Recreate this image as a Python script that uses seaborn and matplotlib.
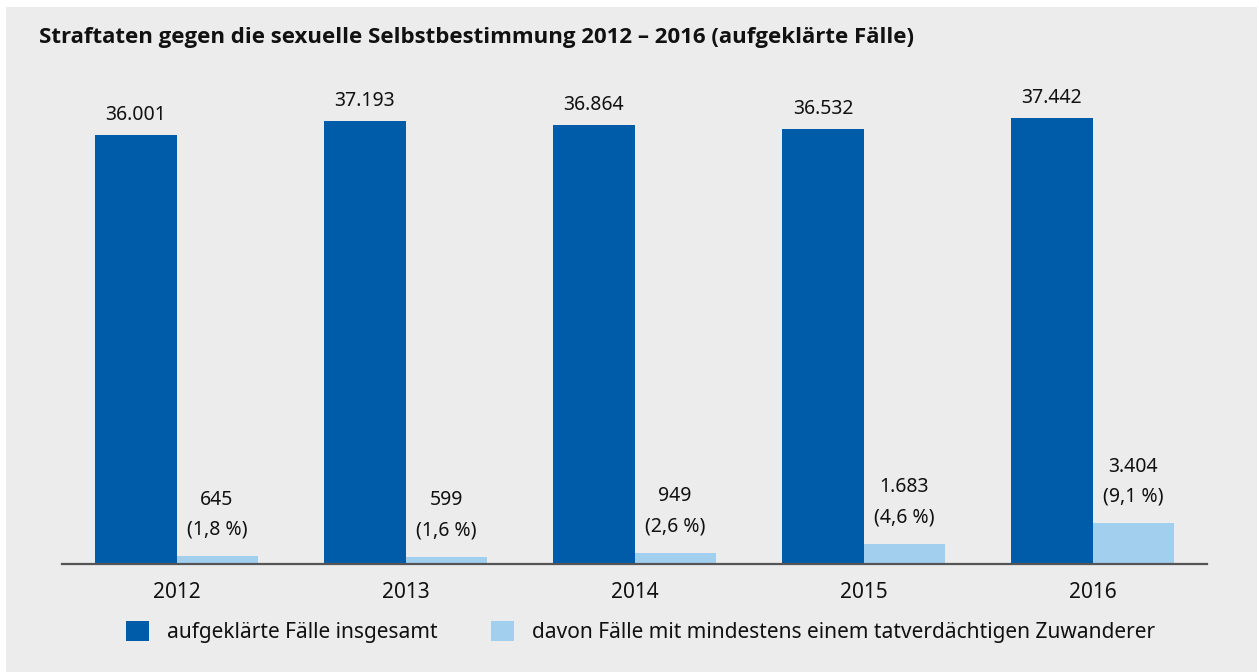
import matplotlib
matplotlib.use("Agg")
import matplotlib.pyplot as plt
import seaborn as sns
import pandas as pd
from matplotlib.patches import Rectangle

years = ["2012", "2013", "2014", "2015", "2016"]
series = ["aufgeklärte Fälle insgesamt",
          "davon Fälle mit mindestens einem tatverdächtigen Zuwanderer"]
total = [36001, 37193, 36864, 36532, 37442]
migrants = [645, 599, 949, 1683, 3404]
shares = ["1,8 %", "1,6 %", "2,6 %", "4,6 %", "9,1 %"]
title = "Straftaten gegen die sexuelle Selbstbestimmung 2012 – 2016 (aufgeklärte Fälle)"

def fmt(v):
    return f"{v:,}".replace(",", ".")

df = pd.DataFrame({
    "Jahr": years * 2,
    "Serie": [series[0]] * 5 + [series[1]] * 5,
    "Wert": total + migrants,
})

sns.set_theme(style="white")
plt.rcParams["font.family"] = ["Noto Sans", "DejaVu Sans"]

W, H = 1259, 672
fig = plt.figure(figsize=(W / 100, H / 100), dpi=100)
fig.patch.set_facecolor("white")
fig.patches.append(Rectangle((6 / W, 0), (1257 - 6) / W, (H - 7) / H,
                             transform=fig.transFigure, facecolor="#ececec",
                             edgecolor="none", zorder=-10))

ax = fig.add_axes([62 / W, (H - 564) / H, 1145 / W, 464.7 / H])
ax.set_facecolor("none")

sns.barplot(data=df, x="Jahr", y="Wert", hue="Serie", hue_order=series,
            palette=["#005ca9", "#a3cfef"], width=0.708, saturation=1,
            linewidth=0, ax=ax, legend=True)

ax.set_ylim(0, 39000)
ax.set_xlim(-0.5, 4.5)
ax.set_xlabel("")
ax.set_ylabel("")
ax.set_yticks([])
for s in ["left", "right", "top"]:
    ax.spines[s].set_visible(False)
ax.spines["bottom"].set_color("#555555")
ax.spines["bottom"].set_linewidth(1.6)
ax.spines["bottom"].set_zorder(5)
ax.tick_params(axis="x", length=0, pad=13, labelsize=15, labelcolor="#111111")

txtc = "#111111"
c_total, c_mig = ax.containers[0], ax.containers[1]
for bar, v in zip(c_total, total):
    ax.annotate(fmt(v), (bar.get_x() + bar.get_width() / 2, bar.get_height()),
                xytext=(0, 7), textcoords="offset points", ha="center",
                va="bottom", fontsize=14, color=txtc)
for bar, v, sh in zip(c_mig, migrants, shares):
    ax.annotate(f"{fmt(v)}\n({sh})", (bar.get_x() + bar.get_width() / 2, bar.get_height()),
                xytext=(0, 12), textcoords="offset points", ha="center",
                va="bottom", fontsize=14, color=txtc, linespacing=1.66)

handles, labels = ax.get_legend_handles_labels()
ax.get_legend().remove()
fig.legend(handles, labels, loc="center left",
           bbox_to_anchor=(126 / W, (H - 632) / H), ncol=2, frameon=False,
           fontsize=15, handlelength=1.1, handleheight=1.1,
           handletextpad=0.85, columnspacing=2.6, borderpad=0,
           borderaxespad=0, labelcolor=txtc)

fig.text(39 / W, (H - 43) / H, title, fontsize=16, fontweight="bold",
         family=["Open Sans", "DejaVu Sans"],
         color=txtc, ha="left", va="baseline")

fig.savefig("out.png", dpi=100)
